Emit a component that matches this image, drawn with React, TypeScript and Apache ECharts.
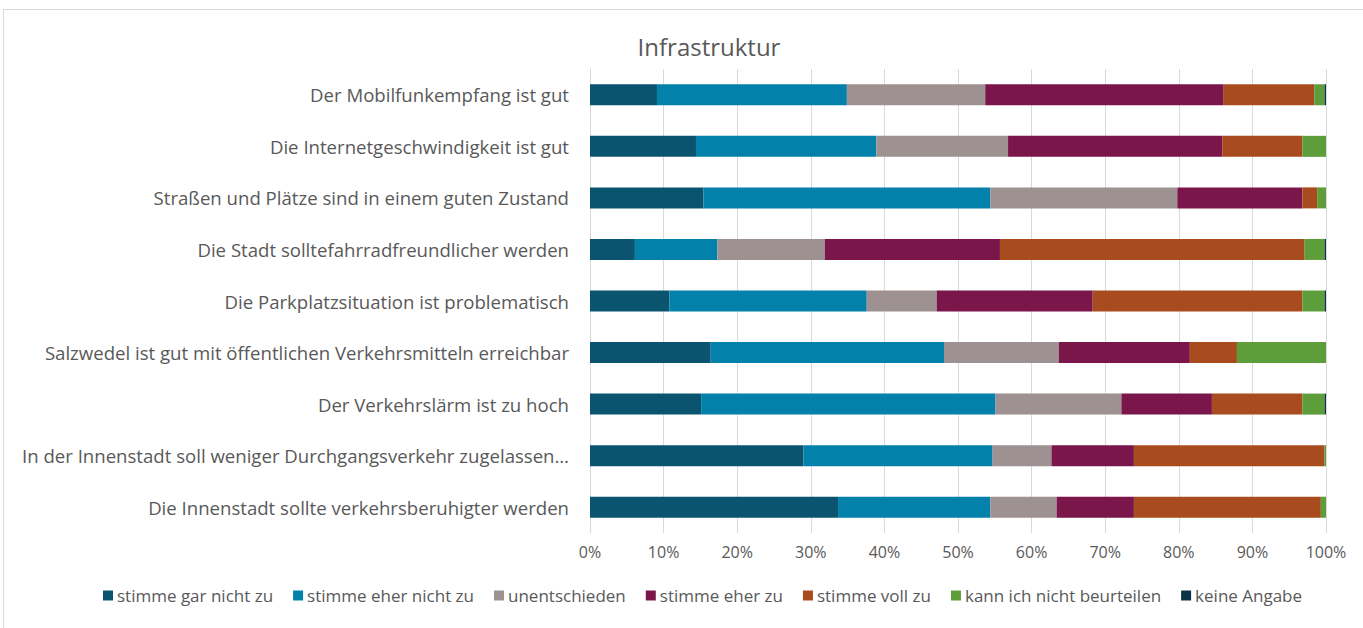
import React, { useEffect, useRef } from "react";
import * as echarts from "echarts";

const categories = [
  "Der Mobilfunkempfang ist gut",
  "Die Internetgeschwindigkeit ist gut",
  "Straßen und Plätze sind in einem guten Zustand",
  "Die Stadt solltefahrradfreundlicher werden",
  "Die Parkplatzsituation ist problematisch",
  "Salzwedel ist gut mit öffentlichen Verkehrsmitteln erreichbar",
  "Der Verkehrslärm ist zu hoch",
  "In der Innenstadt soll weniger Durchgangsverkehr zugelassen…",
  "Die Innenstadt sollte verkehrsberuhigter werden",
];

const seriesNames = [
  "stimme gar nicht zu",
  "stimme eher nicht zu",
  "unentschieden",
  "stimme eher zu",
  "stimme voll zu",
  "kann ich nicht beurteilen",
  "keine Angabe",
];

const colors = ["#0b5470", "#0481aa", "#9d9192", "#7b164b", "#a84b1e", "#5e9e3a", "#0c3447"];

// values in %, per category (same order as categories)
const gar = [9.1, 14.4, 15.4, 6.1, 10.8, 16.4, 15.1, 29.0, 33.7];
const eherNicht = [25.8, 24.5, 39.0, 11.2, 26.8, 31.7, 40.0, 25.7, 20.7];
const unent = [18.8, 17.9, 25.4, 14.6, 9.5, 15.6, 17.1, 8.0, 9.0];
const eherZu = [32.4, 29.1, 17.0, 23.8, 21.2, 17.8, 12.3, 11.2, 10.5];
const vollZu = [12.3, 10.9, 2.0, 41.4, 28.5, 6.4, 12.3, 25.9, 25.4];
const kann = [1.4, 3.2, 1.2, 2.7, 3.0, 12.1, 3.0, 0.2, 0.7];
const keine = [0.2, 0, 0, 0.2, 0.2, 0, 0.2, 0, 0];

const xTicks = [0, 10, 20, 30, 40, 50, 60, 70, 80, 90, 100];

const FONT = "'Open Sans', 'Noto Sans', sans-serif";

export default function App() {
  const ref = useRef<HTMLDivElement>(null);
  useEffect(() => {
    if (!ref.current) return;
    const chart = echarts.init(ref.current, null, { renderer: "svg" });
    const data = [gar, eherNicht, unent, eherZu, vollZu, kann, keine];
    chart.setOption({
      animation: false,
      backgroundColor: "#ffffff",
      title: {
        text: "Infrastruktur",
        left: 704,
        top: 29,
        textAlign: "center",
        textStyle: { fontFamily: FONT, fontSize: 24, fontWeight: "normal", color: "#595959" },
      },
      graphic: [
        {
          type: "rect",
          shape: { x: 3.5, y: 9.5, width: 1370, height: 640 },
          style: { fill: "none", stroke: "#d9d9d9", lineWidth: 1 },
          silent: true,
        },
      ],
      legend: {
        data: seriesNames,
        left: 98,
        top: 582,
        itemWidth: 10,
        itemHeight: 10,
        itemGap: 20,
        icon: "rect",
        textStyle: { fontFamily: FONT, fontSize: 17, color: "#595959", padding: [0, 0, 0, -1] },
      },
      grid: { left: 590, right: 37, top: 69, height: 464, containLabel: false },
      xAxis: {
        type: "value",
        min: 0,
        max: 100,
        interval: 10,
        axisLine: { show: false },
        axisTick: { show: false },
        splitLine: { show: true, lineStyle: { color: "#d9d9d9", width: 1 } },
        axisLabel: {
          formatter: (v: number) => (xTicks.includes(v) ? v + "%" : ""),
          fontFamily: FONT,
          fontSize: 16,
          color: "#595959",
          margin: 11,
        },
      },
      yAxis: {
        type: "category",
        data: categories,
        inverse: true,
        axisLine: { show: true, lineStyle: { color: "#d9d9d9" } },
        axisTick: { show: false },
        axisLabel: { fontFamily: FONT, fontSize: 18.6, color: "#595959", margin: 21 },
      },
      series: seriesNames.map((name, i) => ({
        name,
        type: "bar",
        stack: "total",
        data: data[i],
        barWidth: 21,
        itemStyle: { color: colors[i] },
      })),
    });
    return () => chart.dispose();
  }, []);
  return (
    <div
      ref={ref}
      style={{ position: "fixed", left: 0, top: 0, width: 1363, height: 628 }}
    />
  );
}
